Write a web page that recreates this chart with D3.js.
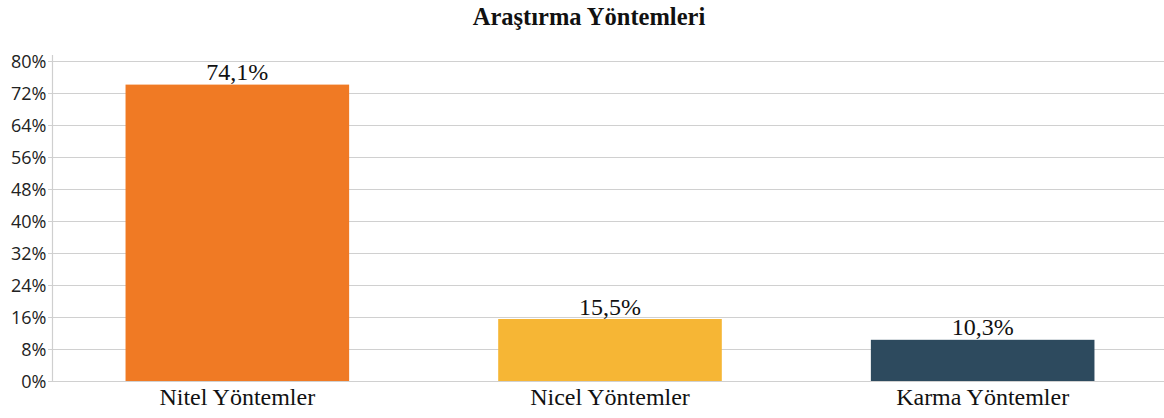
<!DOCTYPE html>
<html><head><meta charset="utf-8">
<script src="https://cdn.jsdelivr.net/npm/d3@7"></script>
<style>body{margin:0;background:#fff}svg{display:block}</style>
</head><body>
<svg id="c" width="1164" height="418"></svg>
<script>
const title = "Araştırma Yöntemleri";
const categories = ["Nitel Yöntemler", "Nicel Yöntemler", "Karma Yöntemler"];
const values = [74.1, 15.5, 10.3];
const valueLabels = ["74,1%", "15,5%", "10,3%"];
const colors = ["#F07A24", "#F6B635", "#2D4A5E"];
const yTicks = [0, 8, 16, 24, 32, 40, 48, 56, 64, 72, 80];

const svg = d3.select("#c");
const x = d3.scaleBand().domain(categories).range([51, 1169]).paddingInner(0.4).paddingOuter(0.2);
const y = d3.scaleLinear().domain([0, 80]).range([381, 61]);

// grid
svg.append("g").selectAll("line").data(yTicks).join("line")
  .attr("x1", 48).attr("x2", 1164)
  .attr("y1", d => y(d) + 0.5).attr("y2", d => y(d) + 0.5)
  .attr("stroke", "#d0d0d0").attr("stroke-width", 1.2);
// y axis line
svg.append("line").attr("x1", 52.5).attr("x2", 52.5).attr("y1", 55).attr("y2", y(0) + 1)
  .attr("stroke", "#cfcfcf").attr("stroke-width", 1.2);

// y tick labels
svg.append("g").selectAll("text").data(yTicks).join("text")
  .attr("x", 46.5).attr("y", d => y(d) + 7)
  .attr("text-anchor", "end")
  .attr("font-family", "'Open Sans', sans-serif").attr("font-size", 18).attr("fill", "#222")
  .text(d => d + "%");

// bars
svg.append("g").selectAll("rect").data(values).join("rect")
  .attr("x", (d, i) => x(categories[i])).attr("width", x.bandwidth())
  .attr("y", d => y(d)).attr("height", d => y(0) - y(d))
  .attr("fill", (d, i) => colors[i]);

// value labels
svg.append("g").selectAll("text").data(values).join("text")
  .attr("x", (d, i) => x(categories[i]) + x.bandwidth() / 2)
  .attr("y", d => y(d) - 4.5)
  .attr("text-anchor", "middle")
  .attr("font-family", "'Liberation Serif', serif").attr("font-size", 24).attr("fill", "#111")
  .text((d, i) => valueLabels[i]);

// category labels
svg.append("g").selectAll("text").data(categories).join("text")
  .attr("x", d => x(d) + x.bandwidth() / 2)
  .attr("y", 405)
  .attr("text-anchor", "middle")
  .attr("font-family", "'Liberation Serif', serif").attr("font-size", 24).attr("fill", "#111")
  .text(d => d);

// title
svg.append("text").attr("x", 589).attr("y", 25).attr("text-anchor", "middle")
  .attr("font-family", "'Liberation Serif', serif").attr("font-weight", "bold")
  .attr("font-size", 24.5).attr("fill", "#111").text(title);
</script>
</body></html>
